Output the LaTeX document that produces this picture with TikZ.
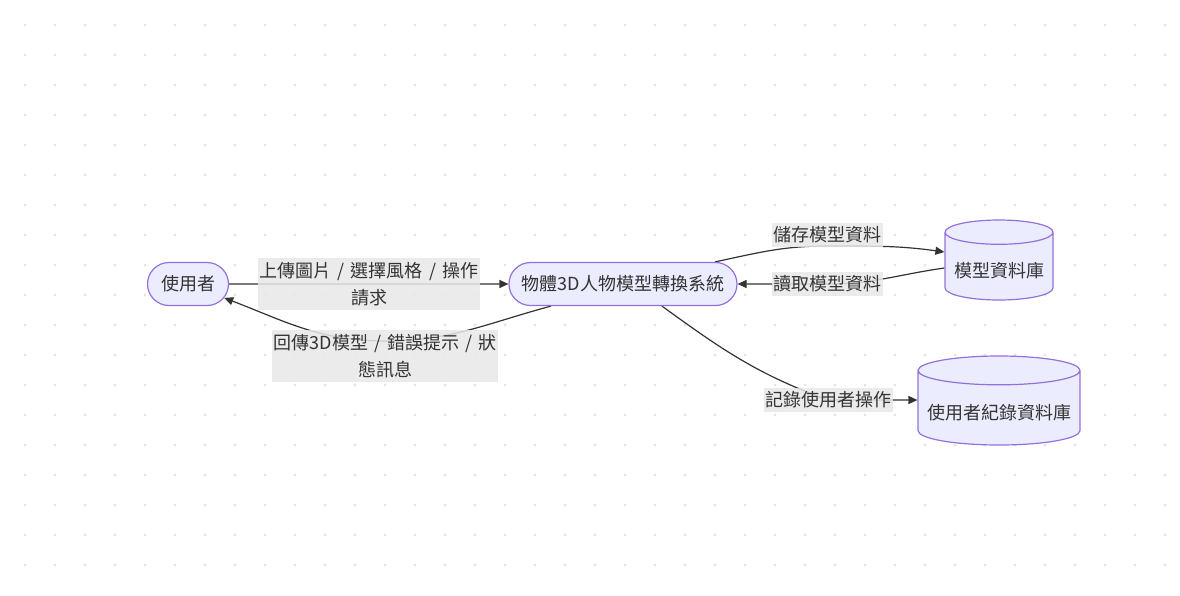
\documentclass[tikz,border=0pt]{standalone}
\usepackage{fontspec}
\setmainfont[WordSpace=1.5]{Noto Sans CJK TC}
\usetikzlibrary{shapes.geometric,shapes.misc,arrows.meta,backgrounds}
\definecolor{nodefill}{HTML}{ECECFF}
\definecolor{nodeline}{HTML}{9370DB}
\definecolor{edgeline}{HTML}{333333}
\definecolor{lblfill}{HTML}{E8E8E8}
\definecolor{dotgray}{HTML}{E4E4E4}
\begin{document}
\begin{tikzpicture}  % ------ Système de conversion 3D : flux de données -------
      [x=1pt,y=1pt,
       every node/.style={font=\fontsize{18}{27}\selectfont, text=edgeline},
       stadium/.style={rounded rectangle, draw=nodeline, fill=nodefill, line width=1.2pt, minimum height=43pt, inner sep=0pt},
       dbase/.style={cylinder, shape border rotate=90, draw=nodeline, fill=nodefill, line width=1.2pt, inner sep=0pt,
                     anchor=shape center, text height=24pt, text depth=2pt},
       lbl/.style={fill=lblfill, fill opacity=0.85, text opacity=1, inner xsep=1.5pt, inner ysep=4pt, align=center},
       arr/.style={draw=edgeline, line width=1.2pt, -{Triangle[length=9pt,width=8pt]}}]

    \useasboundingbox (0,0) rectangle (1180,-595);

    \node[stadium, minimum width=81pt] (user) at (188,-284) {使用者};
    \node[stadium, minimum width=228pt] (sys) at (623,-284) {物體3D人物模型轉換系統};
    \node[dbase, aspect=0.27, minimum width=108pt, minimum height=80pt] (modeldb) at (999,-260) {模型資料庫};
    \node[dbase, aspect=0.2, minimum width=162pt, minimum height=89pt] (logdb) at (999,-400.5) {使用者紀錄資料庫};

    \node[lbl] (upload) at (369,-284) {上傳圖片 / 選擇風格 / 操作\\請求};
    \node[lbl] (reply) at (385,-356) {回傳3D模型 / 錯誤提示 / 狀\\態訊息};
    \node[lbl] (save) at (827,-235) {儲存模型資料};
    \node[lbl] (read) at (827,-284) {讀取模型資料};
    \node[lbl] (record) at (828,-400) {記錄使用者操作};

  \begin{scope}[on background layer]
    \foreach \x in {25,55,...,1165}
      \foreach \y in {25,55,...,565}
        \fill[dotgray] (\x,-\y) circle (1.6);

    \draw[arr] (user) -- (sys);   % requête
    \draw[arr] ([xshift=-72pt]sys.south) to[out=195,in=0] ([yshift=15pt]reply.center) to[out=180,in=-21] (user);
    \draw[arr] ([xshift=92pt]sys.north) to[out=12,in=180] ([yshift=-11pt]save.center) to[out=0,in=172] ([yshift=8pt]modeldb.west |- modeldb.shape center);
    \draw[arr] ([yshift=-8pt]modeldb.west |- modeldb.shape center) to[out=188,in=0] (read.center) -- (sys.east);
    \draw[arr] ([xshift=39pt]sys.south) to[out=-36,in=160] (record.center) -- (record.center -| logdb.west);
  \end{scope}
\end{tikzpicture}
\end{document}
